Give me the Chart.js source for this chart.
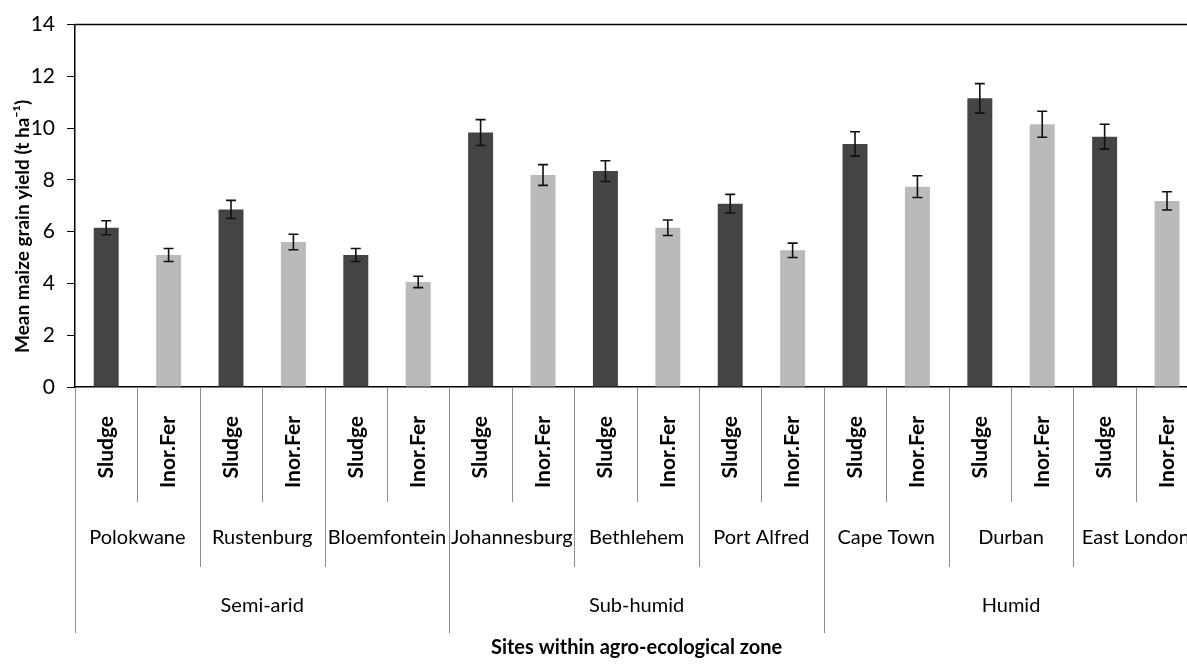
<!DOCTYPE html>
<html>
<head>
<meta charset="utf-8">
<script src="https://cdn.jsdelivr.net/npm/chart.js@4.4.1/dist/chart.umd.min.js"></script>
<style>
  html, body { margin: 0; padding: 0; background: #fff; overflow: hidden; }
  #myChart { display: block; width: 1187px; height: 664px; }
</style>
</head>
<body>
<canvas id="myChart" width="1187" height="664"></canvas>
<script>
const zones = ['Semi-arid', 'Sub-humid', 'Humid'];
const sites = ['Polokwane', 'Rustenburg', 'Bloemfontein', 'Johannesburg', 'Bethlehem',
               'Port Alfred', 'Cape Town', 'Durban', 'East London'];
const treatments = ['Sludge', 'Inor.Fer'];
const sludgeYield = [6.15, 6.86, 5.10, 9.83, 8.34, 7.08, 9.39, 11.15, 9.67];
const inorFerYield = [5.10, 5.60, 4.06, 8.19, 6.15, 5.28, 7.74, 10.15, 7.19];
const sludgeErr = [0.27, 0.35, 0.25, 0.50, 0.40, 0.36, 0.47, 0.57, 0.48];
const inorFerErr = [0.25, 0.30, 0.22, 0.40, 0.30, 0.28, 0.42, 0.50, 0.35];
const yTicks = [0, 2, 4, 6, 8, 10, 12, 14];
const yTitle = 'Mean maize grain yield (t ha\u207B\u00B9)';
const xTitle = 'Sites within agro-ecological zone';

const FONT = 'Lato';
const DARK = '#424446';
const LIGHT = '#b8babb';

// one bar per site / treatment pair, placed at index 0..17 on the x axis
let labels = [];
let points = [];
let errors = [];
let colors = [];
for (let i = 0; i < sites.length; i++) {
  labels.push(treatments[0], treatments[1]);
  points.push({ x: 2 * i, y: sludgeYield[i] }, { x: 2 * i + 1, y: inorFerYield[i] });
  errors.push(sludgeErr[i], inorFerErr[i]);
  colors.push(DARK, LIGHT);
}
const n = labels.length;

const axisDecor = {
  id: 'axisDecor',
  afterDatasetsDraw(chart) {
    const ctx = chart.ctx;
    const y = chart.scales.y;
    const meta = chart.getDatasetMeta(0);
    ctx.save();
    ctx.strokeStyle = '#111';
    ctx.lineWidth = 1.6;
    meta.data.forEach((bar, i) => {
      const top = y.getPixelForValue(points[i].y + errors[i]);
      const bot = y.getPixelForValue(points[i].y - errors[i]);
      const cx = bar.x;
      ctx.beginPath();
      ctx.moveTo(cx, top); ctx.lineTo(cx, bot);
      ctx.moveTo(cx - 5, top); ctx.lineTo(cx + 5, top);
      ctx.moveTo(cx - 5, bot); ctx.lineTo(cx + 5, bot);
      ctx.stroke();
    });
    ctx.restore();
  },
  afterDraw(chart) {
    const { ctx, chartArea } = chart;
    const x = chart.scales.x;
    const edge = k => x.getPixelForValue(k - 0.5);

    ctx.save();
    // plot area top border
    ctx.strokeStyle = '#000';
    ctx.lineWidth = 1.5;
    ctx.beginPath();
    ctx.moveTo(chartArea.left, chartArea.top);
    ctx.lineTo(chartArea.right, chartArea.top);
    ctx.stroke();

    // category separators: treatment / site / zone
    ctx.strokeStyle = '#8c8c8c';
    ctx.lineWidth = 1;
    for (let k = 0; k <= n; k++) {
      const len = k % 6 === 0 ? 246 : (k % 2 === 0 ? 180 : 115);
      const px = Math.round(edge(k)) + 0.5;
      ctx.beginPath();
      ctx.moveTo(px, chartArea.bottom + 1);
      ctx.lineTo(px, chartArea.bottom + len);
      ctx.stroke();
    }

    ctx.fillStyle = '#000';
    ctx.textAlign = 'center';
    ctx.textBaseline = 'middle';
    ctx.font = '20px ' + FONT;
    sites.forEach((s, i) => {
      ctx.fillText(s, (edge(2 * i) + edge(2 * i + 2)) / 2, chartArea.bottom + 151);
    });
    zones.forEach((z, i) => {
      ctx.fillText(z, (edge(6 * i) + edge(6 * i + 6)) / 2, chartArea.bottom + 219);
    });

    // axis titles
    ctx.font = 'bold 20px ' + FONT;
    ctx.fillText(xTitle, (edge(0) + edge(n)) / 2, 648);
    ctx.font = 'bold 19px ' + FONT;
    ctx.textAlign = 'left';
    ctx.translate(23, 353);
    ctx.rotate(-Math.PI / 2);
    ctx.fillText(yTitle, 0, 0);
    ctx.restore();
  }
};

new Chart(document.getElementById('myChart'), {
  type: 'bar',
  data: {
    datasets: [{
      data: points,
      backgroundColor: colors,
      borderWidth: 0,
      barPercentage: 0.4,
      categoryPercentage: 1.0
    }]
  },
  options: {
    responsive: false,
    animation: false,
    layout: { padding: { top: 20, right: 0, left: 0, bottom: 0 } },
    plugins: {
      legend: { display: false },
      tooltip: { enabled: false }
    },
    scales: {
      x: {
        type: 'linear',
        // the source figure is cut off on the right inside the last category
        min: -0.5,
        max: n - 0.68,
        offset: false,
        grid: { display: false },
        border: { color: '#000', width: 1.5 },
        afterBuildTicks(scale) { scale.ticks = labels.map((_, i) => ({ value: i })); },
        ticks: {
          minRotation: 90,
          maxRotation: 90,
          autoSkip: false,
          padding: 21,
          color: '#000',
          font: { family: FONT, size: 21, weight: 'bold' },
          callback: (value) => labels[value]
        },
        afterFit(scale) {
          scale.height = 277;
          scale.paddingLeft = 0;
          scale.paddingRight = 0;
        }
      },
      y: {
        min: 0,
        max: 14,
        afterBuildTicks(scale) { scale.ticks = yTicks.map(v => ({ value: v })); },
        ticks: {
          padding: 12,
          color: '#000',
          font: { family: FONT, size: 21 }
        },
        grid: { drawOnChartArea: false, drawTicks: true, tickLength: 8, color: '#000' },
        border: { color: '#000', width: 1.5 },
        afterFit(scale) { scale.width = 75; }
      }
    }
  },
  plugins: [axisDecor]
});
</script>
</body>
</html>
